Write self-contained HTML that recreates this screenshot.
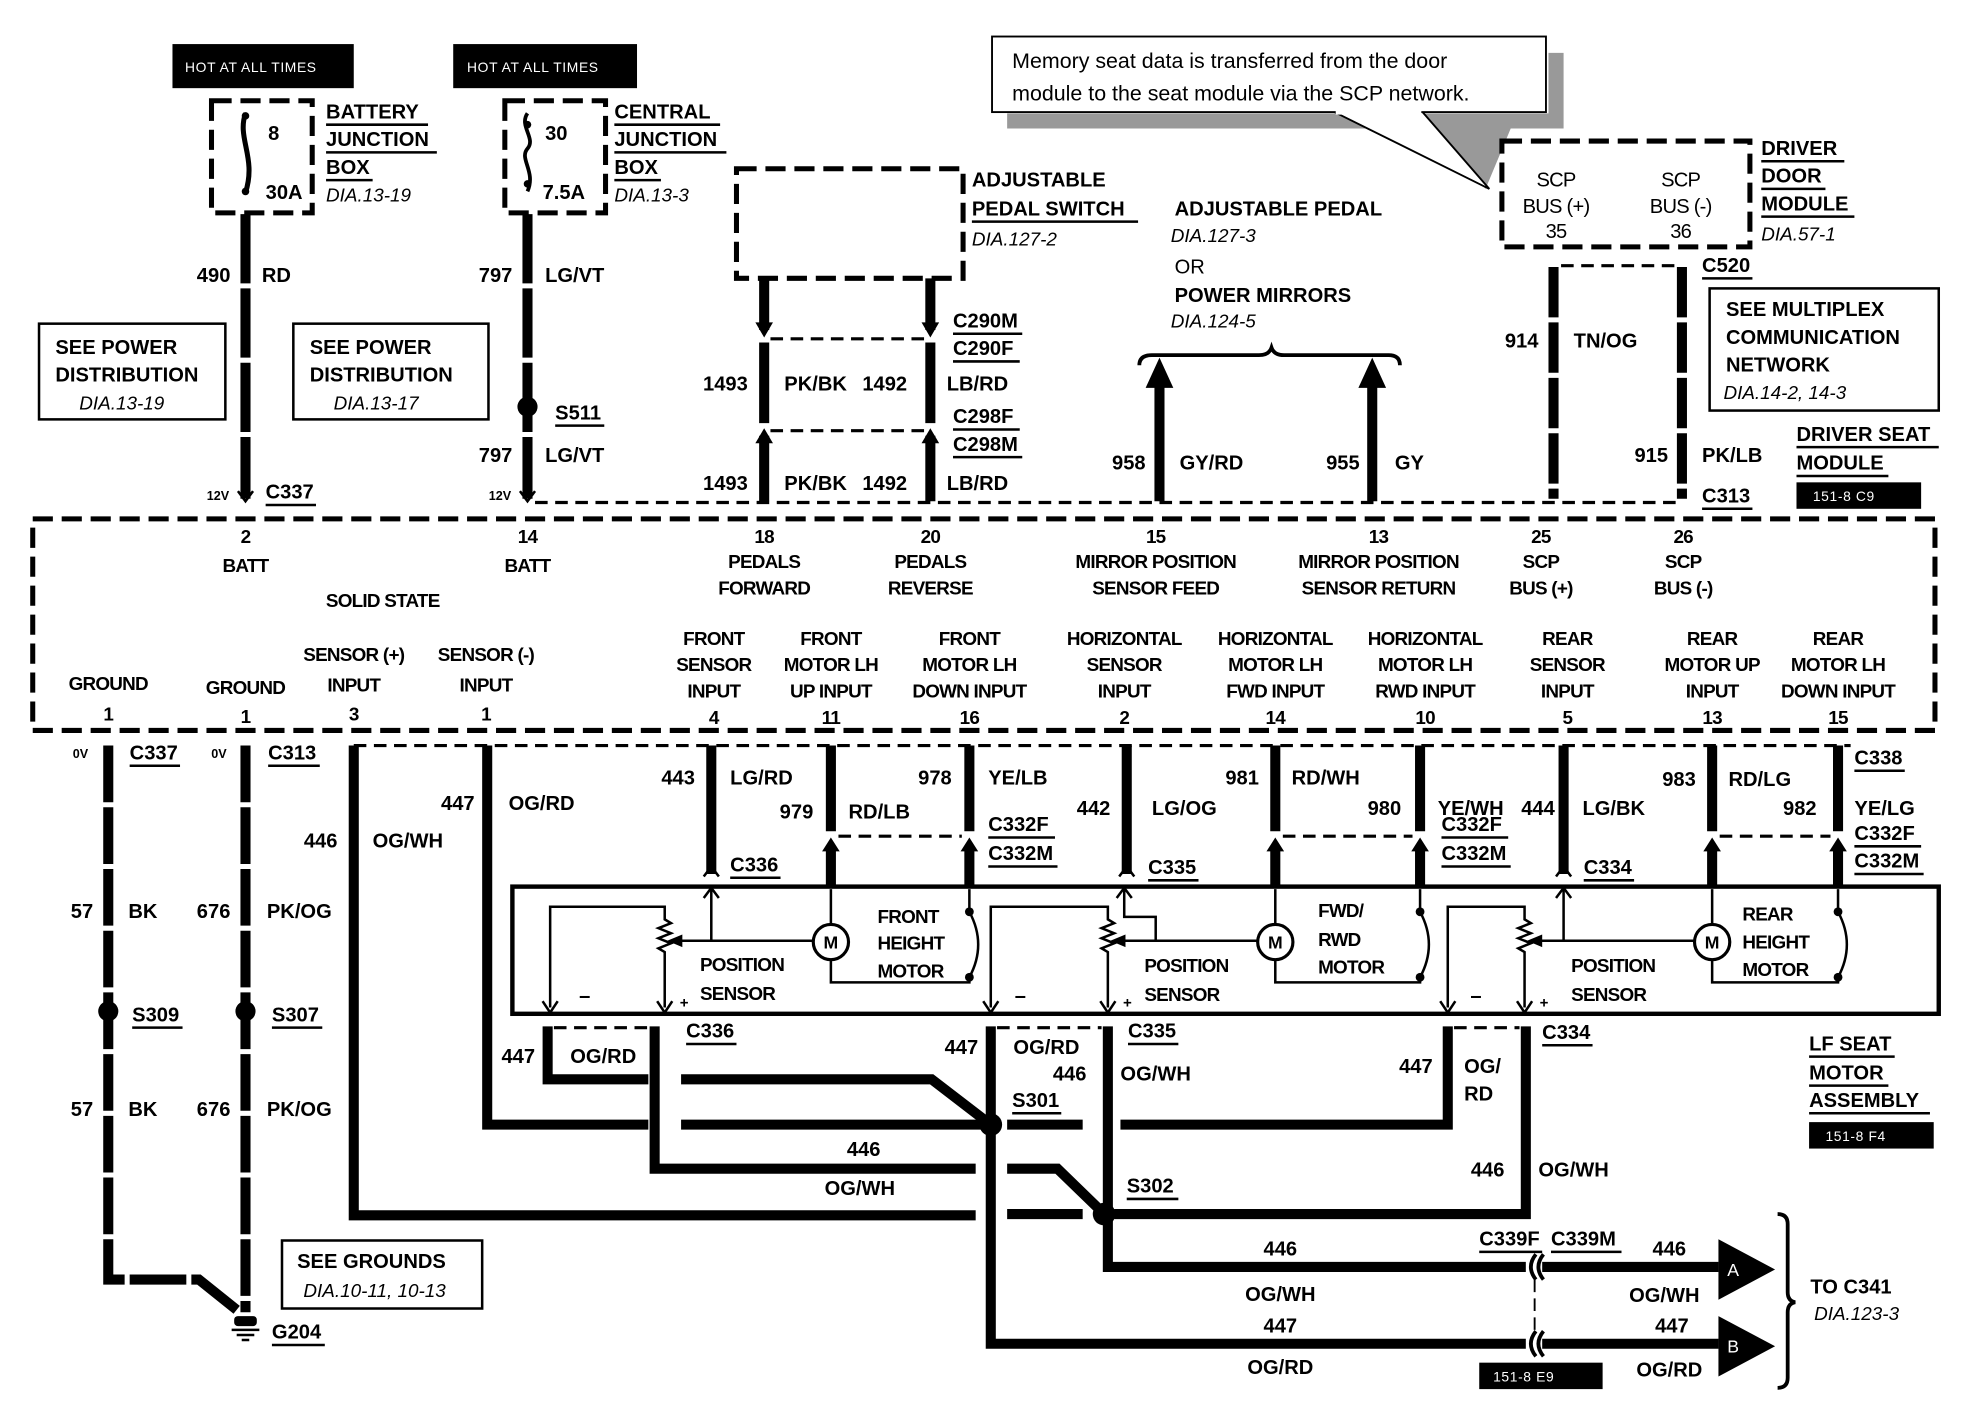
<!DOCTYPE html>
<html><head><meta charset="utf-8"><style>
html,body{margin:0;padding:0;background:#fff;}
svg{display:block}
text{font-family:"Liberation Sans",sans-serif;fill:#000}
.b{font-weight:bold;font-size:16px}
.m{font-weight:bold;font-size:15px;text-anchor:middle;letter-spacing:-0.6px}
.i{font-style:italic;font-size:15px}
.s{font-size:11px;fill:#fff;letter-spacing:0.5px}
.w{stroke:#000;stroke-width:8;fill:none;stroke-linejoin:miter}
.t{stroke:#000;stroke-width:2;fill:none}
.d{stroke:#000;stroke-width:4;fill:none;stroke-dasharray:16,7}
.dt{stroke:#000;stroke-width:2.5;fill:none;stroke-dasharray:10,6}
</style></head><body>
<svg width="1974" height="1408" viewBox="0 0 1568 1118" preserveAspectRatio="none" xmlns="http://www.w3.org/2000/svg">
<rect x="0" y="0" width="1568" height="1118" fill="#fff"/>

<!-- HOT boxes -->
<rect x="137" y="35" width="144" height="35" fill="#000"/>
<text x="147" y="57" class="s">HOT AT ALL TIMES</text>
<rect x="360" y="35" width="146" height="35" fill="#000"/>
<text x="371" y="57" class="s">HOT AT ALL TIMES</text>

<!-- fuse boxes -->
<rect x="168" y="80" width="80" height="89" class="d"/>
<path d="M195 90 C188 110,204 125,195 153" stroke="#000" stroke-width="4" fill="none"/>
<circle cx="195" cy="92" r="3"/><circle cx="195" cy="152" r="3"/>
<text x="213" y="111" class="b">8</text>
<text x="211" y="158" class="b">30A</text>
<text x="259" y="94" class="b">BATTERY</text><line x1="259" y1="99" x2="340" y2="99" class="t" stroke-width="1"/>
<text x="259" y="116" class="b">JUNCTION</text><line x1="259" y1="121" x2="347" y2="121" class="t" stroke-width="1"/>
<text x="259" y="138" class="b">BOX</text><line x1="259" y1="143" x2="296" y2="143" class="t" stroke-width="1"/>
<text x="259" y="160" class="i">DIA.13-19</text>

<rect x="401" y="80" width="80" height="89" class="d"/>
<path d="M419 90 C412 100,426 110,419 118 C412 126,426 136,419 152" stroke="#000" stroke-width="3" fill="none"/>
<circle cx="419" cy="99" r="3"/><circle cx="419" cy="146" r="3"/>
<text x="433" y="111" class="b">30</text>
<text x="431" y="158" class="b">7.5A</text>
<text x="488" y="94" class="b">CENTRAL</text><line x1="488" y1="99" x2="572" y2="99" class="t" stroke-width="1"/>
<text x="488" y="116" class="b">JUNCTION</text><line x1="488" y1="121" x2="577" y2="121" class="t" stroke-width="1"/>
<text x="488" y="138" class="b">BOX</text><line x1="488" y1="143" x2="525" y2="143" class="t" stroke-width="1"/>
<text x="488" y="160" class="i">DIA.13-3</text>

<!-- top wires -->
<path d="M195 170 V396" class="w" stroke-dasharray="55,4"/>
<text x="183" y="224" class="b" text-anchor="end">490</text><text x="208" y="224" class="b">RD</text>
<path d="M419 170 V396" class="w" stroke-dasharray="55,4"/>
<circle cx="419" cy="323" r="8"/>
<text x="407" y="224" class="b" text-anchor="end">797</text><text x="433" y="224" class="b">LG/VT</text>
<text x="407" y="367" class="b" text-anchor="end">797</text><text x="433" y="367" class="b">LG/VT</text>
<text x="441" y="333" class="b">S511</text><line x1="441" y1="338" x2="480" y2="338" class="t" stroke-width="1"/>
<text x="182" y="397" style="font-size:10px;font-weight:bold" text-anchor="end">12V</text>
<text x="406" y="397" style="font-size:10px;font-weight:bold" text-anchor="end">12V</text>
<text x="211" y="396" class="b">C337</text><line x1="211" y1="401" x2="251" y2="401" class="t" stroke-width="1"/>
<path d="M189 390 L195 398 L201 390" class="t" stroke-width="3"/>
<path d="M413 390 L419 398 L425 390" class="t" stroke-width="3"/>

<!-- see power boxes -->
<rect x="31" y="257" width="148" height="76" class="t"/>
<text x="44" y="281" class="b">SEE POWER</text><text x="44" y="303" class="b">DISTRIBUTION</text><text x="63" y="325" class="i">DIA.13-19</text>
<rect x="233" y="257" width="155" height="76" class="t"/>
<text x="246" y="281" class="b">SEE POWER</text><text x="246" y="303" class="b">DISTRIBUTION</text><text x="265" y="325" class="i">DIA.13-17</text>

<!-- adjustable pedal switch -->
<rect x="585" y="134" width="180" height="87" class="d"/>
<text x="772" y="148" class="b">ADJUSTABLE</text>
<text x="772" y="171" class="b">PEDAL SWITCH</text><line x1="772" y1="176" x2="904" y2="176" class="t" stroke-width="1"/>
<text x="772" y="195" class="i">DIA.127-2</text>
<path d="M607 221 V262 M739 221 V262" class="w"/>
<path d="M600 256 L607 268 L614 256Z M732 256 L739 268 L746 256Z" fill="#000"/>
<path d="M607 272 V336 M739 272 V336" class="w"/>
<path d="M607 346 V398 M739 346 V398" class="w"/>
<path d="M600 352 L607 340 L614 352Z M732 352 L739 340 L746 352Z" fill="#000"/>
<line x1="612" y1="269" x2="734" y2="269" class="dt"/>
<line x1="612" y1="342" x2="734" y2="342" class="dt"/>
<text x="594" y="310" class="b" text-anchor="end">1493</text><text x="623" y="310" class="b">PK/BK</text><text x="685" y="310" class="b">1492</text><text x="752" y="310" class="b">LB/RD</text>
<text x="594" y="389" class="b" text-anchor="end">1493</text><text x="623" y="389" class="b">PK/BK</text><text x="685" y="389" class="b">1492</text><text x="752" y="389" class="b">LB/RD</text>
<text x="757" y="260" class="b">C290M</text><line x1="757" y1="265" x2="812" y2="265" class="t" stroke-width="1"/>
<text x="757" y="282" class="b">C290F</text><line x1="757" y1="287" x2="810" y2="287" class="t" stroke-width="1"/>
<text x="757" y="336" class="b">C298F</text><line x1="757" y1="341" x2="810" y2="341" class="t" stroke-width="1"/>
<text x="757" y="358" class="b">C298M</text><line x1="757" y1="363" x2="812" y2="363" class="t" stroke-width="1"/>

<text x="933" y="171" class="b">ADJUSTABLE PEDAL</text>
<text x="930" y="192" class="i">DIA.127-3</text>
<text x="933" y="217" class="b" style="font-weight:normal">OR</text>
<text x="933" y="240" class="b">POWER MIRRORS</text>
<text x="930" y="260" class="i">DIA.124-5</text>
<path d="M905 290 Q905 282 915 282 L1000 282 Q1008 282 1010 276 Q1012 282 1020 282 L1103 282 Q1112 282 1112 290" stroke="#000" stroke-width="3" fill="none"/>
<path d="M921 398 V305 M1090 398 V305" class="w"/>
<path d="M910 308 L921 284 L932 308Z M1079 308 L1090 284 L1101 308Z" fill="#000"/>
<text x="910" y="373" class="b" text-anchor="end">958</text><text x="937" y="373" class="b">GY/RD</text>
<text x="1080" y="373" class="b" text-anchor="end">955</text><text x="1108" y="373" class="b">GY</text>

<!-- callout -->
<polygon points="1230,42 1242,42 1242,102 1200,102 1180,150 1140,102 800,102 800,90 1230,90" fill="#999"/>
<polygon points="1060,89 1183,150 1130,89" fill="#fff" stroke="#000" stroke-width="1.5"/>
<rect x="788" y="29" width="440" height="60" fill="#fff" stroke="#000" stroke-width="1.5"/>
<rect x="1061" y="87" width="68" height="4" fill="#fff"/>
<text x="804" y="54" style="font-size:17px">Memory seat data is transferred from the door</text>
<text x="804" y="80" style="font-size:17px">module to the seat module via the SCP network.</text>

<!-- driver door module -->
<rect x="1193" y="112" width="197" height="84" class="d"/>
<text x="1236" y="148" class="m" style="font-weight:normal;font-size:16px">SCP</text>
<text x="1236" y="169" class="m" style="font-weight:normal;font-size:16px">BUS (+)</text>
<text x="1236" y="189" class="m" style="font-weight:normal;font-size:16px">35</text>
<text x="1335" y="148" class="m" style="font-weight:normal;font-size:16px">SCP</text>
<text x="1335" y="169" class="m" style="font-weight:normal;font-size:16px">BUS (-)</text>
<text x="1335" y="189" class="m" style="font-weight:normal;font-size:16px">36</text>
<text x="1399" y="123" class="b">DRIVER</text><line x1="1399" y1="128" x2="1465" y2="128" class="t" stroke-width="1"/>
<text x="1399" y="145" class="b">DOOR</text><line x1="1399" y1="150" x2="1450" y2="150" class="t" stroke-width="1"/>
<text x="1399" y="167" class="b">MODULE</text><line x1="1399" y1="172" x2="1473" y2="172" class="t" stroke-width="1"/>
<text x="1399" y="191" class="i">DIA.57-1</text>
<path d="M1234 212 V396 M1336 212 V396" class="w" stroke-dasharray="40,4"/>
<line x1="1240" y1="211" x2="1330" y2="211" class="dt"/>
<text x="1222" y="276" class="b" text-anchor="end">914</text><text x="1250" y="276" class="b">TN/OG</text>
<text x="1325" y="367" class="b" text-anchor="end">915</text><text x="1352" y="367" class="b">PK/LB</text>
<text x="1352" y="216" class="b">C520</text><line x1="1352" y1="221" x2="1392" y2="221" class="t" stroke-width="1"/>
<text x="1352" y="399" class="b">C313</text><line x1="1352" y1="404" x2="1392" y2="404" class="t" stroke-width="1"/>
<rect x="1358" y="229" width="182" height="97" class="t"/>
<text x="1371" y="251" class="b">SEE MULTIPLEX</text><text x="1371" y="273" class="b">COMMUNICATION</text><text x="1371" y="295" class="b">NETWORK</text><text x="1369" y="317" class="i">DIA.14-2, 14-3</text>
<text x="1427" y="350" class="b">DRIVER SEAT</text><line x1="1427" y1="355" x2="1540" y2="355" class="t" stroke-width="1"/>
<text x="1427" y="373" class="b">MODULE</text><line x1="1427" y1="378" x2="1500" y2="378" class="t" stroke-width="1"/>
<rect x="1427" y="383" width="99" height="21" fill="#000"/><text x="1440" y="398" class="s">151-8 C9</text>

<!-- dashed connector line top -->
<line x1="425" y1="399" x2="1336" y2="399" class="dt"/>

<!-- module -->
<rect x="26" y="412" width="1511" height="168" class="d"/>
<g class="m">
<text x="195" y="431">2</text><text x="195" y="454">BATT</text>
<text x="419" y="431">14</text><text x="419" y="454">BATT</text>
<text x="304" y="482">SOLID STATE</text>
<text x="607" y="431">18</text><text x="607" y="451">PEDALS</text><text x="607" y="472">FORWARD</text>
<text x="739" y="431">20</text><text x="739" y="451">PEDALS</text><text x="739" y="472">REVERSE</text>
<text x="918" y="431">15</text><text x="918" y="451">MIRROR POSITION</text><text x="918" y="472">SENSOR FEED</text>
<text x="1095" y="431">13</text><text x="1095" y="451">MIRROR POSITION</text><text x="1095" y="472">SENSOR RETURN</text>
<text x="1224" y="431">25</text><text x="1224" y="451">SCP</text><text x="1224" y="472">BUS (+)</text>
<text x="1337" y="431">26</text><text x="1337" y="451">SCP</text><text x="1337" y="472">BUS (-)</text>
<text x="86" y="548">GROUND</text><text x="86" y="572">1</text>
<text x="195" y="551">GROUND</text><text x="195" y="574">1</text>
<text x="281" y="525">SENSOR (+)</text><text x="281" y="549">INPUT</text><text x="281" y="572">3</text>
<text x="386" y="525">SENSOR (-)</text><text x="386" y="549">INPUT</text><text x="386" y="572">1</text>
<text x="567" y="512">FRONT</text><text x="567" y="533">SENSOR</text><text x="567" y="554">INPUT</text><text x="567" y="575">4</text>
<text x="660" y="512">FRONT</text><text x="660" y="533">MOTOR LH</text><text x="660" y="554">UP INPUT</text><text x="660" y="575">11</text>
<text x="770" y="512">FRONT</text><text x="770" y="533">MOTOR LH</text><text x="770" y="554">DOWN INPUT</text><text x="770" y="575">16</text>
<text x="893" y="512">HORIZONTAL</text><text x="893" y="533">SENSOR</text><text x="893" y="554">INPUT</text><text x="893" y="575">2</text>
<text x="1013" y="512">HORIZONTAL</text><text x="1013" y="533">MOTOR LH</text><text x="1013" y="554">FWD INPUT</text><text x="1013" y="575">14</text>
<text x="1132" y="512">HORIZONTAL</text><text x="1132" y="533">MOTOR LH</text><text x="1132" y="554">RWD INPUT</text><text x="1132" y="575">10</text>
<text x="1245" y="512">REAR</text><text x="1245" y="533">SENSOR</text><text x="1245" y="554">INPUT</text><text x="1245" y="575">5</text>
<text x="1360" y="512">REAR</text><text x="1360" y="533">MOTOR UP</text><text x="1360" y="554">INPUT</text><text x="1360" y="575">13</text>
<text x="1460" y="512">REAR</text><text x="1460" y="533">MOTOR LH</text><text x="1460" y="554">DOWN INPUT</text><text x="1460" y="575">15</text>
</g>

<!-- dashed line under module -->
<line x1="281" y1="592" x2="1470" y2="592" class="dt"/>

<!-- ground wires -->
<path d="M86 592 V1016 H158 L188 1040 M195 592 V1042" class="w" stroke-dasharray="45,4"/>
<circle cx="86" cy="803" r="8"/><circle cx="195" cy="803" r="8"/>
<text x="70" y="602" style="font-size:10px;font-weight:bold" text-anchor="end">0V</text>
<text x="180" y="602" style="font-size:10px;font-weight:bold" text-anchor="end">0V</text>
<text x="103" y="603" class="b">C337</text><line x1="103" y1="608" x2="143" y2="608" class="t" stroke-width="1"/>
<text x="213" y="603" class="b">C313</text><line x1="213" y1="608" x2="254" y2="608" class="t" stroke-width="1"/>
<text x="74" y="729" class="b" text-anchor="end">57</text><text x="102" y="729" class="b">BK</text>
<text x="183" y="729" class="b" text-anchor="end">676</text><text x="212" y="729" class="b">PK/OG</text>
<text x="74" y="886" class="b" text-anchor="end">57</text><text x="102" y="886" class="b">BK</text>
<text x="183" y="886" class="b" text-anchor="end">676</text><text x="212" y="886" class="b">PK/OG</text>
<text x="105" y="811" class="b">S309</text><line x1="105" y1="816" x2="145" y2="816" class="t" stroke-width="1"/>
<text x="216" y="811" class="b">S307</text><line x1="216" y1="816" x2="256" y2="816" class="t" stroke-width="1"/>
<rect x="186" y="1045" width="18" height="8" rx="3"/>
<line x1="184" y1="1056" x2="206" y2="1056" class="t"/><line x1="188" y1="1060" x2="202" y2="1060" class="t"/><line x1="192" y1="1064" x2="198" y2="1064" class="t"/>
<text x="216" y="1063" class="b">G204</text><line x1="216" y1="1068" x2="258" y2="1068" class="t" stroke-width="1"/>
<rect x="224" y="985" width="159" height="54" class="t"/>
<text x="236" y="1007" class="b">SEE GROUNDS</text><text x="241" y="1030" class="i">DIA.10-11, 10-13</text>

<!-- sensor wires -->
<path d="M281 592 V965 H775" class="w"/>
<path d="M387 592 V893 H515 M541 893 H780" class="w"/>
<text x="268" y="673" class="b" text-anchor="end">446</text><text x="296" y="673" class="b">OG/WH</text>
<text x="377" y="643" class="b" text-anchor="end">447</text><text x="404" y="643" class="b">OG/RD</text>
<path d="M435 815 V857 H515 M541 857 H740 L783 890" class="w"/>
<path d="M520 815 V928 H775" class="w"/>
<line x1="440" y1="816" x2="515" y2="816" class="dt"/>
<text x="425" y="844" class="b" text-anchor="end">447</text><text x="453" y="844" class="b">OG/RD</text>
<text x="545" y="824" class="b">C336</text><line x1="545" y1="829" x2="585" y2="829" class="t" stroke-width="1"/>
<text x="686" y="918" class="b" text-anchor="middle">446</text><text x="683" y="949" class="b" text-anchor="middle">OG/WH</text>

<!-- top connector wires into LF motor assy -->
<path d="M565 592 V694 M895 592 V694 M1242 592 V694" class="w"/>
<path d="M559 696 L565 688 L571 696 M889 696 L895 688 L901 696 M1236 696 L1242 688 L1248 696" class="t" stroke-width="3"/>
<path d="M660 592 V660 M770 592 V660 M1013 592 V660 M1128 592 V660 M1360 592 V660 M1460 592 V660" class="w"/>
<path d="M660 672 V704 M770 672 V704 M1013 672 V704 M1128 672 V704 M1360 672 V704 M1460 672 V704" class="w"/>
<path d="M653 676 L660 665 L667 676Z M763 676 L770 665 L777 676Z M1006 676 L1013 665 L1020 676Z M1121 676 L1128 665 L1135 676Z M1353 676 L1360 665 L1367 676Z M1453 676 L1460 665 L1467 676Z" fill="#000"/>
<line x1="666" y1="664" x2="764" y2="664" class="dt"/>
<line x1="1019" y1="664" x2="1122" y2="664" class="dt"/>
<line x1="1366" y1="664" x2="1454" y2="664" class="dt"/>
<text x="552" y="623" class="b" text-anchor="end">443</text><text x="580" y="623" class="b">LG/RD</text>
<text x="646" y="650" class="b" text-anchor="end">979</text><text x="674" y="650" class="b">RD/LB</text>
<text x="756" y="623" class="b" text-anchor="end">978</text><text x="785" y="623" class="b">YE/LB</text>
<text x="785" y="660" class="b">C332F</text><line x1="785" y1="665" x2="838" y2="665" class="t" stroke-width="1"/>
<text x="785" y="683" class="b">C332M</text><line x1="785" y1="688" x2="840" y2="688" class="t" stroke-width="1"/>
<text x="580" y="692" class="b">C336</text><line x1="580" y1="697" x2="620" y2="697" class="t" stroke-width="1"/>
<text x="882" y="647" class="b" text-anchor="end">442</text><text x="915" y="647" class="b">LG/OG</text>
<text x="912" y="694" class="b">C335</text><line x1="912" y1="699" x2="952" y2="699" class="t" stroke-width="1"/>
<text x="1000" y="623" class="b" text-anchor="end">981</text><text x="1026" y="623" class="b">RD/WH</text>
<text x="1113" y="647" class="b" text-anchor="end">980</text><text x="1142" y="647" class="b">YE/WH</text>
<text x="1145" y="660" class="b">C332F</text><line x1="1145" y1="665" x2="1198" y2="665" class="t" stroke-width="1"/>
<text x="1145" y="683" class="b">C332M</text><line x1="1145" y1="688" x2="1200" y2="688" class="t" stroke-width="1"/>
<text x="1235" y="647" class="b" text-anchor="end">444</text><text x="1257" y="647" class="b">LG/BK</text>
<text x="1258" y="694" class="b">C334</text><line x1="1258" y1="699" x2="1298" y2="699" class="t" stroke-width="1"/>
<text x="1347" y="624" class="b" text-anchor="end">983</text><text x="1373" y="624" class="b">RD/LG</text>
<text x="1443" y="647" class="b" text-anchor="end">982</text><text x="1473" y="647" class="b">YE/LG</text>
<text x="1473" y="607" class="b">C338</text><line x1="1473" y1="612" x2="1513" y2="612" class="t" stroke-width="1"/>
<text x="1473" y="667" class="b">C332F</text><line x1="1473" y1="672" x2="1526" y2="672" class="t" stroke-width="1"/>
<text x="1473" y="689" class="b">C332M</text><line x1="1473" y1="694" x2="1528" y2="694" class="t" stroke-width="1"/>

<!-- LF seat motor assembly -->
<rect x="407" y="704" width="1133" height="101" fill="none" stroke="#000" stroke-width="3.5"/>
<g class="t">
<!-- front -->
<path d="M437 800 V720 H528 V730 l5 3 -10 4 10 4 -10 4 10 4 -10 4 5 3 V800"/>
<path d="M565 706 V747 M536 747 H646"/>
<path d="M660 706 V734 M660 762 V780 H770 V776 M770 706 V724"/>
<path d="M770 724 Q784 750 770 776"/>
<!-- horizontal -->
<path d="M787 800 V720 H880 V730 l5 3 -10 4 10 4 -10 4 10 4 -10 4 5 3 V800"/>
<path d="M893 706 V728 H918 V747 H888 M918 747 H999"/>
<path d="M1013 706 V734 M1013 762 V780 H1128 V776 M1128 706 V724"/>
<path d="M1128 724 Q1142 750 1128 776"/>
<!-- rear -->
<path d="M1150 800 V720 H1211 V730 l5 3 -10 4 10 4 -10 4 10 4 -10 4 5 3 V800"/>
<path d="M1242 706 V747 M1218 747 H1346"/>
<path d="M1360 706 V734 M1360 762 V780 H1460 V776 M1460 706 V724"/>
<path d="M1460 724 Q1474 750 1460 776"/>
</g>
<g stroke="#000" stroke-width="2" fill="none">
<path d="M431 795 L437 804 L443 795 M522 795 L528 804 L534 795 M781 795 L787 804 L793 795 M874 795 L880 804 L886 795 M1144 795 L1150 804 L1156 795 M1205 795 L1211 804 L1217 795"/>
<path d="M559 713 L565 705 L571 713 M887 713 L893 705 L899 713 M1236 713 L1242 705 L1248 713"/>
</g>
<path d="M530 747 L542 742 L542 752Z M882 747 L894 742 L894 752Z M1213 747 L1225 742 L1225 752Z" fill="#000"/>
<g fill="#fff" stroke="#000" stroke-width="2.5">
<circle cx="660" cy="748" r="14"/><circle cx="1013" cy="748" r="14"/><circle cx="1360" cy="748" r="14"/>
</g>
<g fill="#000"><circle cx="770" cy="724" r="3.5"/><circle cx="770" cy="776" r="3.5"/><circle cx="1128" cy="724" r="3.5"/><circle cx="1128" cy="776" r="3.5"/><circle cx="1460" cy="724" r="3.5"/><circle cx="1460" cy="776" r="3.5"/></g>
<g class="b" style="font-size:14px" text-anchor="middle"><text x="660" y="753" text-anchor="middle">M</text><text x="1013" y="753" text-anchor="middle">M</text><text x="1360" y="753" text-anchor="middle">M</text></g>
<g class="m" style="text-anchor:start">
<text x="556" y="771">POSITION</text><text x="556" y="794">SENSOR</text>
<text x="697" y="733">FRONT</text><text x="697" y="754">HEIGHT</text><text x="697" y="776">MOTOR</text>
<text x="909" y="772">POSITION</text><text x="909" y="795">SENSOR</text>
<text x="1047" y="728">FWD/</text><text x="1047" y="751">RWD</text><text x="1047" y="773">MOTOR</text>
<text x="1248" y="772">POSITION</text><text x="1248" y="795">SENSOR</text>
<text x="1384" y="731">REAR</text><text x="1384" y="753">HEIGHT</text><text x="1384" y="775">MOTOR</text>
</g>
<g class="b"><text x="460" y="796">–</text><text x="540" y="800" style="font-size:12px">+</text><text x="806" y="796">–</text><text x="892" y="800" style="font-size:12px">+</text><text x="1168" y="796">–</text><text x="1223" y="800" style="font-size:12px">+</text></g>

<!-- lower right wiring -->
<path d="M787 815 V1067 H1212 M1225 1067 H1365" class="w"/>
<path d="M880 815 V1006 H1212 M1225 1006 H1365" class="w"/>
<path d="M890 893 H1150 V815" class="w"/>
<path d="M1212 815 V964 H885" class="w"/>
<path d="M800 964 H860" class="w"/>
<path d="M800 928 H840 L873 960" class="w"/>
<path d="M800 893 H860" class="w"/>
<line x1="792" y1="816" x2="875" y2="816" class="dt"/>
<line x1="1155" y1="816" x2="1207" y2="816" class="dt"/>
<circle cx="787" cy="893" r="9"/>
<circle cx="877" cy="964" r="9"/>
<text x="777" y="837" class="b" text-anchor="end">447</text><text x="805" y="837" class="b">OG/RD</text>
<text x="863" y="858" class="b" text-anchor="end">446</text><text x="890" y="858" class="b">OG/WH</text>
<text x="896" y="824" class="b">C335</text><line x1="896" y1="829" x2="936" y2="829" class="t" stroke-width="1"/>
<text x="804" y="879" class="b">S301</text><line x1="804" y1="884" x2="843" y2="884" class="t" stroke-width="1"/>
<text x="895" y="947" class="b">S302</text><line x1="895" y1="952" x2="936" y2="952" class="t" stroke-width="1"/>
<text x="1138" y="852" class="b" text-anchor="end">447</text><text x="1163" y="852" class="b">OG/</text><text x="1163" y="874" class="b">RD</text>
<text x="1225" y="825" class="b">C334</text><line x1="1225" y1="830" x2="1265" y2="830" class="t" stroke-width="1"/>
<text x="1195" y="934" class="b" text-anchor="end">446</text><text x="1222" y="934" class="b">OG/WH</text>
<g stroke="#000" stroke-width="3" fill="none">
<path d="M1220 996 Q1212 1006 1220 1016 M1226 996 Q1218 1006 1226 1016"/>
<path d="M1220 1057 Q1212 1067 1220 1077 M1226 1057 Q1218 1067 1226 1077"/>
</g>
<line x1="1219" y1="1016" x2="1219" y2="1057" stroke="#000" stroke-width="1.5" stroke-dasharray="10,5"/>
<polygon points="1365,984 1410,1008 1365,1032" fill="#000"/>
<polygon points="1365,1045 1410,1069 1365,1093" fill="#000"/>
<text x="1372" y="1013" class="b" style="fill:#fff;font-weight:normal;font-size:14px">A</text>
<text x="1372" y="1074" class="b" style="fill:#fff;font-weight:normal;font-size:14px">B</text>
<text x="1175" y="989" class="b">C339F</text><line x1="1175" y1="994" x2="1225" y2="994" class="t" stroke-width="1"/>
<text x="1232" y="989" class="b">C339M</text><line x1="1232" y1="994" x2="1288" y2="994" class="t" stroke-width="1"/>
<text x="1017" y="997" class="b" text-anchor="middle">446</text><text x="1017" y="1033" class="b" text-anchor="middle">OG/WH</text>
<text x="1017" y="1058" class="b" text-anchor="middle">447</text><text x="1017" y="1091" class="b" text-anchor="middle">OG/RD</text>
<text x="1326" y="997" class="b" text-anchor="middle">446</text><text x="1322" y="1034" class="b" text-anchor="middle">OG/WH</text>
<text x="1328" y="1058" class="b" text-anchor="middle">447</text><text x="1326" y="1093" class="b" text-anchor="middle">OG/RD</text>
<path d="M1412 964 Q1420 964 1420 972 L1420 1026 Q1420 1033 1426 1034 Q1420 1035 1420 1042 L1420 1094 Q1420 1102 1412 1102" stroke="#000" stroke-width="3" fill="none"/>
<text x="1438" y="1027" class="b">TO C341</text><text x="1441" y="1048" class="i">DIA.123-3</text>
<rect x="1175" y="1082" width="98" height="21" fill="#000"/><text x="1186" y="1097" class="s">151-8 E9</text>
<text x="1437" y="834" class="b">LF SEAT</text><line x1="1437" y1="839" x2="1505" y2="839" class="t" stroke-width="1"/>
<text x="1437" y="857" class="b">MOTOR</text><line x1="1437" y1="862" x2="1500" y2="862" class="t" stroke-width="1"/>
<text x="1437" y="879" class="b">ASSEMBLY</text><line x1="1437" y1="884" x2="1533" y2="884" class="t" stroke-width="1"/>
<rect x="1437" y="891" width="99" height="21" fill="#000"/><text x="1450" y="906" class="s">151-8 F4</text>
</svg>
</body></html>
